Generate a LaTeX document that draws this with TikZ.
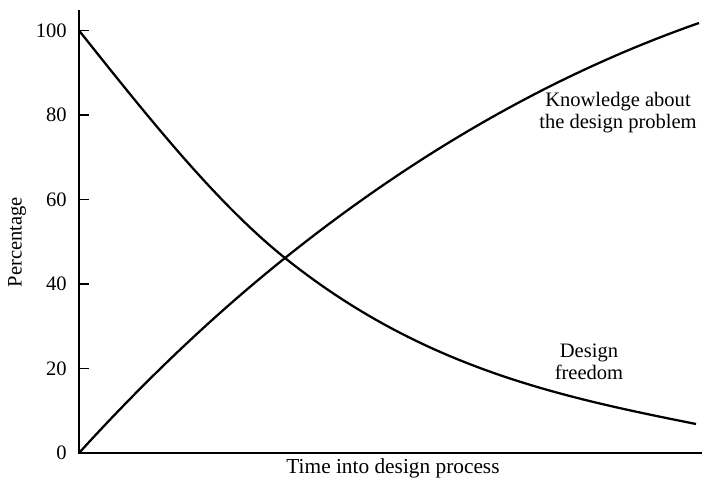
\documentclass[tikz,border=0pt]{standalone}
\usepackage{fontspec}
\setmainfont{Liberation Serif}
\usepackage{tikz}

\begin{document}
\begin{tikzpicture}[x=0.75pt,y=-0.75pt,
axis/.style={line width=1pt},
curve/.style={line width=1.7pt},
lbl/.style={inner sep=0pt,font=\fontsize{15.4}{16.5}\selectfont}]
\useasboundingbox (0,0) rectangle (706,481);
\coordinate (ytop) at (79,10);
\coordinate (O) at (79,453);
\coordinate (xend) at (702,453);
\draw[axis] (ytop) -- (O) -- (xend);
\foreach \v in {0,20,...,100}{
	\coordinate (t\v) at (79,453-4.225*\v);
	\draw[axis] (t\v) -- ++(10,0);
	\node[lbl,anchor=east] (n\v) at ([xshift=-12pt*0.75]t\v) {\v};
}
\node[lbl,rotate=90] (ylabel) at (17,242) {Percentage};
\node[lbl,anchor=base,font=\fontsize{16}{17}\selectfont] (xlabel) at (393,473) {Time into design process};
\coordinate (cross) at (285,258);
\coordinate (fend) at (696,424);
\coordinate (kend) at (699,23);
\draw[curve] (t100) .. controls (147.7,116.8) and (216.3,203) .. (cross)
	.. controls (422,367.6) and (559,396.6) .. (fend);
\draw[curve] (O) .. controls (147.7,377.5) and (216.3,313) .. (cross)
	.. controls (423,147.6) and (561,71.3) .. (kend);
\node[lbl,align=center] (know) at (618,113) {Knowledge about\\the design problem};
\node[lbl,align=center] (free) at (589,362) {Design\\freedom};
\end{tikzpicture}
\end{document}
